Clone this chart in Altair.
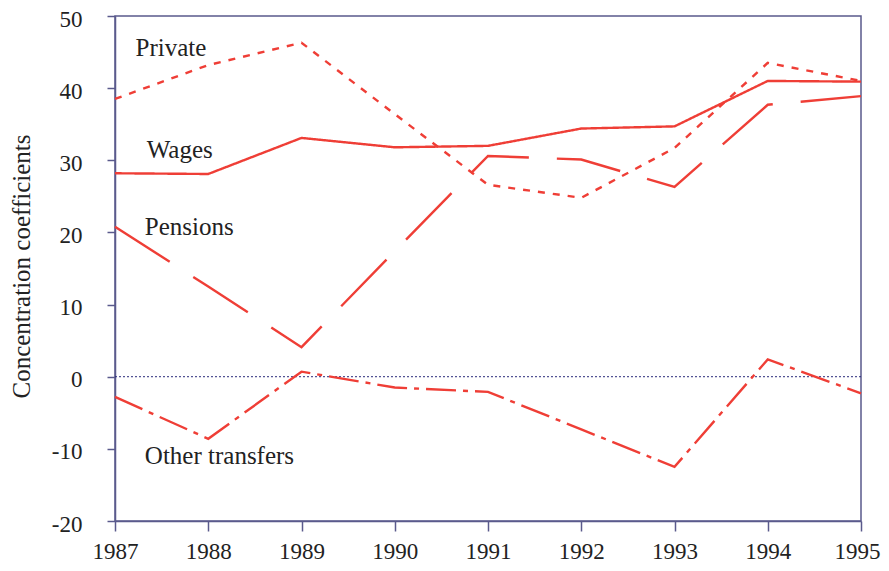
import altair as alt
import pandas as pd

years = [1987, 1988, 1989, 1990, 1991, 1992, 1993, 1994, 1995]
wages = [28.2, 28.1, 33.1, 31.8, 32.0, 34.4, 34.7, 41.0, 40.9]
private = [38.5, 43.2, 46.3, 36.4, 26.6, 24.8, 31.7, 43.5, 41.0]
pensions = [20.8, 12.5, 4.1, 17.4, 30.6, 30.1, 26.3, 37.7, 38.9]
other = [-2.8, -8.6, 0.7, -1.5, -2.1, -7.3, -12.5, 2.4, -2.3]

series_names = ["Private", "Wages", "Pensions", "Other transfers"]
series_values = [private, wages, pensions, other]
dash_styles = [[7, 8], [1, 0], [65, 28], [30, 7, 5, 7]]

label_x = [1987.22, 1987.34, 1987.32, 1987.32]
label_y = [45.6, 31.4, 20.75, -11.0]

RED = "#ef3e36"
AXIS = "#5a5a8c"
FONT = "Liberation Serif"

rows = []
for name, vals in zip(series_names, series_values):
    for yr, v in zip(years, vals):
        rows.append({"year": yr, "value": v, "series": name})
df = pd.DataFrame(rows)

labels_df = pd.DataFrame({"x": label_x, "y": label_y, "text": series_names})
zero_df = pd.DataFrame({"y": [0]})

xscale = alt.Scale(domain=[1987, 1995], nice=False, zero=False)
yscale = alt.Scale(domain=[-20, 50], nice=False)

lines = alt.Chart(df).mark_line(color=RED, strokeWidth=2.4).encode(
    x=alt.X("year:Q", scale=xscale,
            axis=alt.Axis(values=years, labelExpr="'' + datum.value", title=None, grid=False,
                          tickSize=10, labelPadding=9, labelFontSize=23,
                          labelOffset={"condition": {"test": "datum.value === 1995", "value": -4},
                                       "value": 0},
                          labelFont=FONT, labelColor="#222222",
                          domainColor=AXIS, tickColor=AXIS, domainWidth=1.5, tickWidth=1.5,
                          labelFlush=False)),
    y=alt.Y("value:Q", scale=yscale,
            axis=alt.Axis(values=list(range(-20, 51, 10)), labelExpr="'' + datum.value",
                          title="Concentration coefficients",
                          grid=False, tickSize=8, labelPadding=25, labelFontSize=23,
                          labelOffset=3,
                          labelFont=FONT, labelColor="#222222",
                          domainColor=AXIS, tickColor=AXIS, domainWidth=1.5, tickWidth=1.5,
                          titleFont=FONT, titleFontSize=25, titleFontWeight="normal",
                          titleColor="#222222", titleX=-81, titleY=250)),
    strokeDash=alt.StrokeDash("series:N",
                              scale=alt.Scale(domain=series_names, range=dash_styles),
                              legend=None),
    detail="series:N",
)

zero = alt.Chart(zero_df).mark_rule(color="#2a2a7a", strokeWidth=1, strokeDash=[2, 2]).encode(
    y=alt.Y("y:Q", scale=yscale)
)

texts = alt.Chart(labels_df).mark_text(
    align="left", baseline="middle", font=FONT, fontSize=25, color="#222222"
).encode(
    x=alt.X("x:Q", scale=xscale),
    y=alt.Y("y:Q", scale=yscale),
    text="text:N",
)

chart = alt.layer(zero, lines, texts).properties(
    width=746, height=505,
    autosize=alt.AutoSizeParams(type="none"),
    padding={"left": 107, "top": 8, "right": 20, "bottom": 42},
).configure_view(stroke=AXIS, strokeWidth=1.5)

chart.save("out.html", embed_options={"renderer": "svg", "actions": False})
